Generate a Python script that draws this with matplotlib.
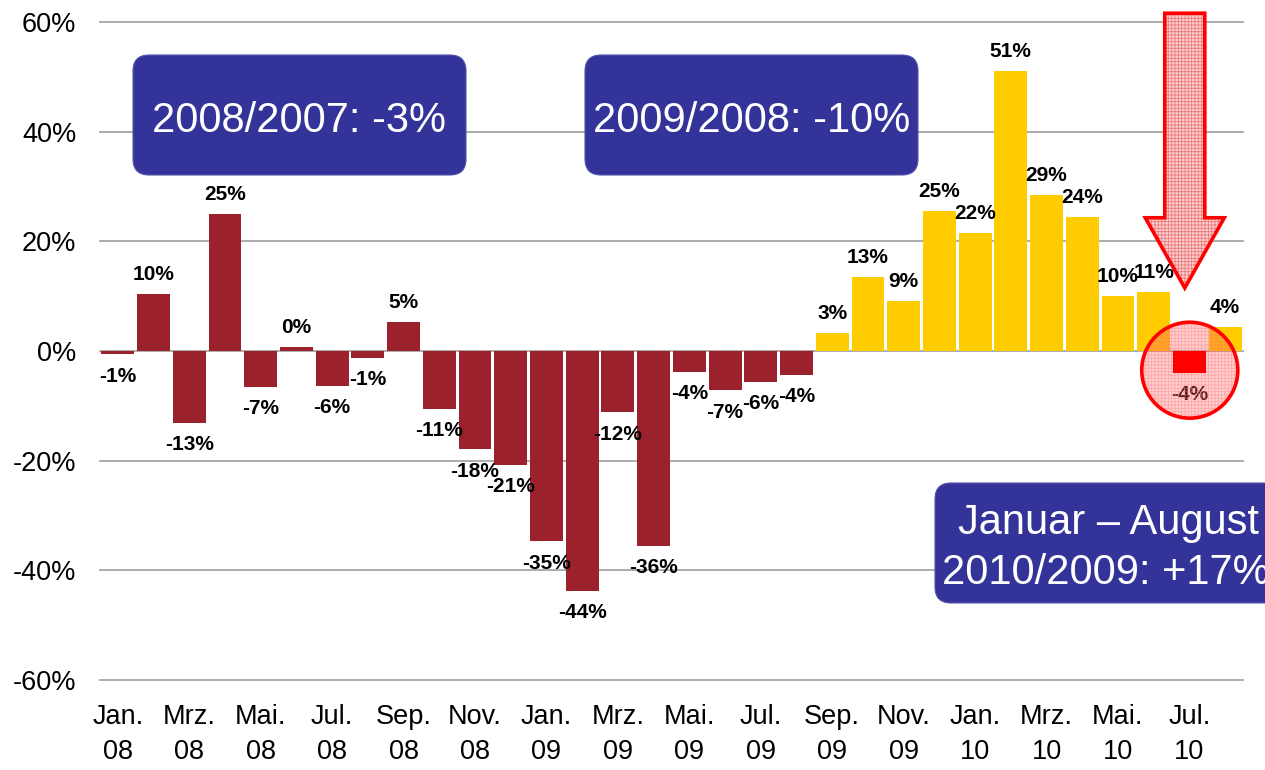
import matplotlib
matplotlib.use("Agg")
import matplotlib.pyplot as plt
from matplotlib.patches import FancyBboxPatch, Polygon, Ellipse
from matplotlib.transforms import IdentityTransform

plt.rcParams['font.family'] = ['Liberation Sans', 'DejaVu Sans']
plt.rcParams['hatch.linewidth'] = 0.6

# ---- data ----
values = [-0.6, 10.4, -13.1, 25.0, -6.5, 0.7, -6.3, -1.2, 5.3, -10.5, -17.9, -20.7,
          -34.7, -43.7, -11.2, -35.5, -3.8, -7.2, -5.6, -4.3, 3.3, 13.5, 9.1, 25.6,
          21.6, 51.1, 28.5, 24.5, 10.0, 10.8, -4.0, 4.4]
value_labels = ["-1%", "10%", "-13%", "25%", "-7%", "0%", "-6%", "-1%", "5%", "-11%", "-18%", "-21%",
                "-35%", "-44%", "-12%", "-36%", "-4%", "-7%", "-6%", "-4%", "3%", "13%", "9%", "25%",
                "22%", "51%", "29%", "24%", "10%", "11%", "-4%", "4%"]
tick_labels = ["Jan.\n08", "Mrz.\n08", "Mai.\n08", "Jul.\n08", "Sep.\n08", "Nov.\n08",
               "Jan.\n09", "Mrz.\n09", "Mai.\n09", "Jul.\n09", "Sep.\n09", "Nov.\n09",
               "Jan.\n10", "Mrz.\n10", "Mai.\n10", "Jul.\n10"]
recovery_start = 20      # Sep. 09
highlight = 30           # Jul. 10
y_ticks = [-60, -40, -20, 0, 20, 40, 60]
box_texts = ["2008/2007: -3%", "2009/2008: -10%", "Januar \u2013 August", "2010/2009: +17%"]

DARK_RED = "#9B212D"
YELLOW = "#FFCC00"
RED = "#FF0000"
BLUE = "#333399"
GRID = "#A6A6A6"

colors = []
for i in range(len(values)):
    if i == highlight:
        colors.append(RED)
    elif i >= recovery_start:
        colors.append(YELLOW)
    else:
        colors.append(DARK_RED)

fig = plt.figure(figsize=(12.65, 7.7), dpi=100)
W, H = 1265, 770
ax = fig.add_axes([100 / W, 90 / H, 1143 / W, 658 / H])

x = list(range(len(values)))
bars = ax.bar(x, values, width=0.92, color=colors, zorder=3)

ax.set_xlim(-0.5, len(values) - 0.5)
ax.set_ylim(-60, 60)
ax.set_yticks(y_ticks)
ax.set_yticklabels([f"{t}%" for t in y_ticks])
ax.set_xticks(x[::2])
ax.set_xticklabels(tick_labels, linespacing=1.42)
ax.tick_params(axis='y', length=0, pad=17, labelsize=19.5)
ax.tick_params(axis='x', length=0, pad=17.5, labelsize=19.5)
for s in ax.spines.values():
    s.set_visible(False)
ax.yaxis.grid(True, color=GRID, lw=1.3, zorder=0)
ax.set_axisbelow(True)
for gl in ax.get_ygridlines():
    gl.set_clip_on(False)

# data labels
for b, v, lab in zip(bars, values, value_labels):
    cx = b.get_x() + b.get_width() / 2
    if v >= 0:
        ax.annotate(lab, (cx, v), xytext=(0, 7), textcoords='offset points',
                    ha='center', va='bottom', fontsize=15, fontweight='bold', zorder=5)
    else:
        ax.annotate(lab, (cx, v), xytext=(0, -9), textcoords='offset points',
                    ha='center', va='top', fontsize=15, fontweight='bold', zorder=5)

# highlight circle around Jul. 10
circ_fill = Ellipse((highlight + 0.01, -3.5), 2.69, 17.5, facecolor=(1, 0.35, 0.35, 0.28),
                    edgecolor=(1, 0.45, 0.45, 0.45), hatch='+++++', lw=0, zorder=6, clip_on=False)
circ_edge = Ellipse((highlight + 0.01, -3.5), 2.69, 17.5, fill=False, edgecolor=RED,
                    lw=2.6, zorder=7, clip_on=False)
ax.add_patch(circ_fill)
ax.add_patch(circ_edge)
# keep the highlighted bar vivid on top of the translucent circle
hb = bars[highlight]
ax.bar(hb.get_x() + hb.get_width() / 2, values[highlight], width=hb.get_width(),
       color=RED, zorder=6.5)

# down arrow
ax_c = highlight - 0.13
bw, hw = 0.56, 1.106
y_top, y_sh, y_tip = 61.6, 24.3, 11.5
arrow_pts = [(ax_c - bw, y_top), (ax_c + bw, y_top), (ax_c + bw, y_sh), (ax_c + hw, y_sh),
             (ax_c, y_tip), (ax_c - hw, y_sh), (ax_c - bw, y_sh)]
ax.add_patch(Polygon(arrow_pts, closed=True, facecolor="#FBD0D0", edgecolor="#F07878",
                     hatch='+++++', lw=0, zorder=6, clip_on=False))
ax.add_patch(Polygon(arrow_pts, closed=True, fill=False, edgecolor=RED, lw=2.6,
                     joinstyle='miter', zorder=7, clip_on=False))

# blue summary boxes (pixel coordinates, origin bottom-left)
idt = IdentityTransform()


def add_box(x0, x1, ytop, ybot):
    p = FancyBboxPatch((x0, H - ybot), x1 - x0, ybot - ytop,
                       boxstyle="round,pad=0,rounding_size=16",
                       transform=idt, facecolor=BLUE, edgecolor="#5555AA", lw=0.8, zorder=10)
    fig.patches.append(p)


add_box(133, 466, 55, 175)
add_box(585, 918, 55, 175)
add_box(935, 1290, 483, 603)

fig.text(299.5, H - 132, box_texts[0], transform=idt, ha='center', va='baseline',
         color='white', fontsize=30, zorder=11)
fig.text(751.5, H - 132, box_texts[1], transform=idt, ha='center', va='baseline',
         color='white', fontsize=30, zorder=11)
fig.text(1108, H - 534, box_texts[2], transform=idt, ha='center', va='baseline',
         color='white', fontsize=30, zorder=11)
fig.text(1106, H - 584, box_texts[3], transform=idt, ha='center', va='baseline',
         color='white', fontsize=30, zorder=11)

fig.savefig("out.png", dpi=100)
